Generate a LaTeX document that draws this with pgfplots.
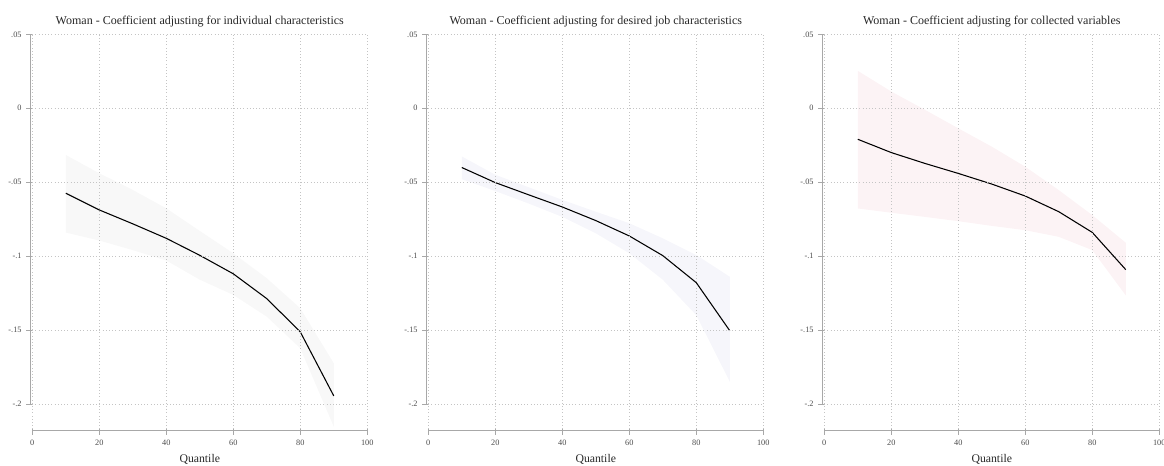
\documentclass[border=0pt]{standalone}
\usepackage{fontspec}
\setmainfont{Liberation Serif}
\usepackage{pgfplots}
\usepackage{pgfplotstable}
\pgfplotsset{compat=1.18}
\usepgfplotslibrary{fillbetween}

\definecolor{bandA}{HTML}{F8F8F8}
\definecolor{bandB}{HTML}{F6F6FB}
\definecolor{bandC}{HTML}{FCF3F5}
\definecolor{gridc}{HTML}{C4C4C4}
\definecolor{axisc}{HTML}{A8A8A8}
\definecolor{labc}{HTML}{4A4A4A}

% quantile, coefficient, lower and upper bound of the confidence band
\pgfplotstableread{
q   b        lo       hi
10  -0.0575  -0.0841  -0.0316
20  -0.0688  -0.0895  -0.0440
30  -0.0782  -0.0960  -0.0553
40  -0.0880  -0.1030  -0.0677
50  -0.0995  -0.1160  -0.0830
60  -0.1120  -0.1263  -0.0981
70  -0.1288  -0.1410  -0.1150
80  -0.1513  -0.1624  -0.1353
90  -0.1946  -0.2154  -0.1725
}\indiv

\pgfplotstableread{
q   b        lo       hi
10  -0.0401  -0.0480  -0.0326
20  -0.0503  -0.0560  -0.0450
30  -0.0586  -0.0645  -0.0535
40  -0.0668  -0.0735  -0.0620
50  -0.0760  -0.0846  -0.0700
60  -0.0864  -0.0981  -0.0778
70  -0.0997  -0.1160  -0.0880
80  -0.1180  -0.1400  -0.0993
90  -0.1505  -0.1850  -0.1140
}\jobchar

\pgfplotstableread{
q   b        lo       hi
10  -0.0210  -0.0678   0.0253
20  -0.0300  -0.0707   0.0113
30  -0.0373  -0.0735  -0.0010
40  -0.0441  -0.0764  -0.0136
50  -0.0513  -0.0796  -0.0260
60  -0.0594  -0.0825  -0.0396
70  -0.0700  -0.0870  -0.0554
80  -0.0840  -0.0960  -0.0723
90  -0.1092  -0.1266  -0.0910
}\collected

\pgfplotsset{
  qpanel/.style={
    scale only axis,
    width=251.25pt, height=296pt,
    anchor=south west,
    xmin=0, xmax=100, ymin=-0.217, ymax=0.05,
    xtick={0,20,40,60,80,100},
    ytick={-0.2,-0.15,-0.1,-0.05,0,0.05},
    yticklabels={-.2,-.15,-.1,-.05,0,.05},
    /pgf/number format/assume math mode=true,
    grid=major,
    major grid style={gridc, dotted, line width=0.5pt},
    axis on top,
    axis line style={draw=none},
    tick pos=left,
    tick align=outside,
    major tick length=4.5pt,
    tick style={axisc, line width=0.5pt},
    ticklabel style={font=\fontsize{6.2}{7}\selectfont, text=labc},
    title style={font=\fontsize{9}{10}\selectfont, text=black!85, yshift=-4pt},
    xlabel=Quantile,
    xlabel style={font=\fontsize{8.8}{10}\selectfont, text=black!85},
  },
}

\begin{document}
\begin{tikzpicture}

\begin{axis}[qpanel, at={(24.2pt,27.75pt)},
  title={Woman - Coefficient adjusting for individual characteristics}]
  \addplot[name path=hiA, draw=none, forget plot] table[x=q, y=hi] {\indiv};
  \addplot[name path=loA, draw=none, forget plot] table[x=q, y=lo] {\indiv};
  \addplot[fill=bandA, draw=none] fill between[of=hiA and loA];
  \addplot[black, line width=0.8pt] table[x=q, y=b] {\indiv};
  \coordinate (A1) at (axis cs:0,0.05);
  \coordinate (A2) at (axis cs:0,-0.2);
  \coordinate (A3) at (axis cs:0,-0.217);
  \coordinate (A4) at (axis cs:100,-0.217);
\end{axis}

\begin{axis}[qpanel, at={(321.2pt,27.75pt)},
  title={Woman - Coefficient adjusting for desired job characteristics}]
  \addplot[name path=hiB, draw=none, forget plot] table[x=q, y=hi] {\jobchar};
  \addplot[name path=loB, draw=none, forget plot] table[x=q, y=lo] {\jobchar};
  \addplot[fill=bandB, draw=none] fill between[of=hiB and loB];
  \addplot[black, line width=0.8pt] table[x=q, y=b] {\jobchar};
  \coordinate (B1) at (axis cs:0,0.05);
  \coordinate (B2) at (axis cs:0,-0.2);
  \coordinate (B3) at (axis cs:0,-0.217);
  \coordinate (B4) at (axis cs:100,-0.217);
\end{axis}

\begin{axis}[qpanel, at={(618.2pt,27.75pt)},
  title={Woman - Coefficient adjusting for collected variables}]
  \addplot[name path=hiC, draw=none, forget plot] table[x=q, y=hi] {\collected};
  \addplot[name path=loC, draw=none, forget plot] table[x=q, y=lo] {\collected};
  \addplot[fill=bandC, draw=none] fill between[of=hiC and loC];
  \addplot[black, line width=0.8pt] table[x=q, y=b] {\collected};
  \coordinate (C1) at (axis cs:0,0.05);
  \coordinate (C2) at (axis cs:0,-0.2);
  \coordinate (C3) at (axis cs:0,-0.217);
  \coordinate (C4) at (axis cs:100,-0.217);
\end{axis}

% axis lines, set slightly apart from the plot regions
\foreach \p in {A,B,C}{
  \draw[axisc, line width=0.6pt] ([xshift=-1.7pt]\p1) -- ([xshift=-1.7pt]\p2);
  \draw[axisc, line width=0.6pt] ([yshift=-1.3pt]\p3) -- ([yshift=-1.3pt]\p4);
}

\pgfresetboundingbox
\path[use as bounding box] (0,0) rectangle (873pt,349.5pt);
\end{tikzpicture}
\end{document}
